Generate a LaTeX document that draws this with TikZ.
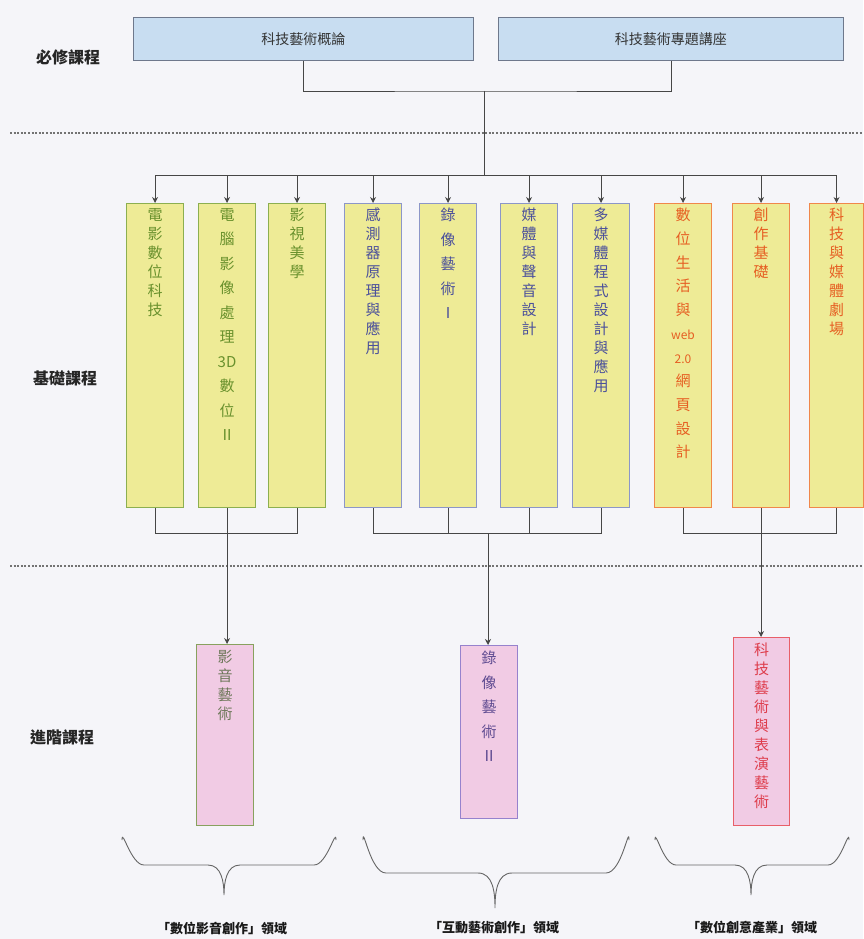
\documentclass[tikz,border=0pt]{standalone}
\usepackage{fontspec}
\setmainfont{Noto Sans CJK TC}
\usetikzlibrary{arrows.meta}
\definecolor{bgc}{RGB}{245,245,249}
\definecolor{topfill}{RGB}{200,221,241}
\definecolor{topdraw}{RGB}{110,120,140}
\definecolor{yfill}{RGB}{238,235,150}
\definecolor{gdraw}{RGB}{140,175,80}
\definecolor{gtext}{RGB}{105,145,45}
\definecolor{bdraw}{RGB}{140,150,200}
\definecolor{btext}{RGB}{75,80,155}
\definecolor{odraw}{RGB}{240,135,75}
\definecolor{otext}{RGB}{230,95,35}
\definecolor{pfill}{RGB}{241,203,228}
\definecolor{atext}{RGB}{110,120,90}
\definecolor{pdraw}{RGB}{150,130,205}
\definecolor{ptext}{RGB}{95,75,145}
\definecolor{rdraw}{RGB}{232,95,105}
\definecolor{rtext}{RGB}{222,60,75}
\definecolor{linec}{RGB}{70,70,70}
\tikzset{
  topbox/.style={draw=topdraw, fill=topfill, line width=0.9pt, minimum height=43pt, anchor=north west, font=\fontsize{14}{16}\selectfont, text=black!80},
  vbox/.style={fill=yfill, line width=1.1pt, minimum width=57pt, anchor=north west, inner sep=0pt},
  pbox/.style={fill=pfill, line width=1.1pt, minimum width=57pt, anchor=north west, inner sep=0pt},
  vtxt/.style={anchor=north, align=center, inner sep=0pt, font=\fontsize{15}{19}\selectfont},
  vtxtw/.style={anchor=north, align=center, inner sep=0pt, font=\fontsize{15}{24.5}\selectfont},
  sidelbl/.style={font=\bfseries\fontsize{16}{18}\selectfont, text=black!85},
  domlbl/.style={font=\bfseries\fontsize{13}{15}\selectfont, text=black!90},
  conn/.style={draw=linec, line width=0.9pt},
  arr/.style={conn, -{Stealth[length=6pt,width=6pt]}},
  sep/.style={draw=black!55, line width=1.2pt, dash pattern=on 2pt off 1.6pt},
  brc/.style={draw=black!60, line width=0.9pt}
}
\begin{document}
\begin{tikzpicture}[x=1pt,y=-1pt]
\fill[bgc] (0,0) rectangle (863,939);
\useasboundingbox (0,0) rectangle (863,939);

% separators
\draw[sep] (10,133) -- (863,133);
\draw[sep] (10,566) -- (863,566);

% side labels
\node[sidelbl] (l1) at (68,57) {必修課程};
\node[sidelbl] (l2) at (65,378) {基礎課程};
\node[sidelbl] (l3) at (62,737) {進階課程};

% top boxes
\node[topbox, minimum width=340pt] (top1) at (133,17) {科技藝術概論};
\node[topbox, minimum width=345pt] (top2) at (498,17) {科技藝術專題講座};

% vertical boxes
\node[vbox, draw=gdraw, minimum height=304pt] (b1) at (126,203) {};
\node[vbox, draw=gdraw, minimum height=304pt] (b2) at (198,203) {};
\node[vbox, draw=gdraw, minimum height=304pt] (b3) at (268,203) {};
\node[vbox, draw=bdraw, minimum height=304pt] (b4) at (344,203) {};
\node[vbox, draw=bdraw, minimum height=304pt] (b5) at (419,203) {};
\node[vbox, draw=bdraw, minimum height=304pt] (b6) at (500,203) {};
\node[vbox, draw=bdraw, minimum height=304pt] (b7) at (572,203) {};
\node[vbox, draw=odraw, minimum height=304pt] (b8) at (654,203) {};
\node[vbox, draw=odraw, minimum height=304pt] (b9) at (732,203) {};
\node[vbox, draw=odraw, minimum height=304pt, minimum width=54pt] (b10) at (809,203) {};

\node[vtxt, text=gtext] (t1) at ([yshift=-5pt]b1.north) {電\\影\\數\\位\\科\\技};
\node[vtxtw, text=gtext] (t2) at ([yshift=-5pt]b2.north) {電\\腦\\影\\像\\處\\理\\3D\\數\\位\\Ⅱ};
\node[vtxt, text=gtext] (t3) at ([yshift=-5pt]b3.north) {影\\視\\美\\學};
\node[vtxt, text=btext] (t4) at ([yshift=-5pt]b4.north) {感\\測\\器\\原\\理\\與\\應\\用};
\node[vtxtw, text=btext] (t5) at ([yshift=-5pt]b5.north) {錄\\像\\藝\\術\\Ⅰ};
\node[vtxt, text=btext] (t6) at ([yshift=-5pt]b6.north) {媒\\體\\與\\聲\\音\\設\\計};
\node[vtxt, text=btext] (t7) at ([yshift=-5pt]b7.north) {多\\媒\\體\\程\\式\\設\\計\\與\\應\\用};
\node[vtxt, text=otext, font=\fontsize{15}{23.7}\selectfont] (t8) at ([yshift=-5pt]b8.north) {數\\位\\生\\活\\與\\{\fontsize{12}{12}\selectfont web}\\{\fontsize{12}{12}\selectfont 2.0}\\網\\頁\\設\\計};
\node[vtxt, text=otext] (t9) at ([yshift=-5pt]b9.north) {創\\作\\基\\礎};
\node[vtxt, text=otext] (t10) at ([yshift=-5pt]b10.north) {科\\技\\與\\媒\\體\\劇\\場};

% advanced boxes
\node[pbox, draw=gdraw!70!gray, minimum height=181pt] (A) at (196,644) {};
\node[pbox, draw=pdraw, minimum height=173pt] (B) at (460,645) {};
\node[pbox, draw=rdraw, minimum height=188pt, minimum width=56pt] (C) at (733,637) {};
\node[vtxt, text=atext] (tA) at ([yshift=-6pt]A.north) {影\\音\\藝\\術};
\node[vtxtw, text=ptext] (tB) at ([yshift=-6pt]B.north) {錄\\像\\藝\\術\\Ⅱ};
\node[vtxt, text=rtext] (tC) at ([yshift=-6pt]C.north) {科\\技\\藝\\術\\與\\表\\演\\藝\\術};

% top connectors
\coordinate (j0) at (484,91);
\coordinate (j1) at (484,175);
\draw[conn] (top1.south) |- (j0) -| (top2.south);
\draw[conn] (j0) -- (j1);
\draw[conn] (b1.north |- j1) -- (b10.north |- j1);
\foreach \b in {b1,b2,b3,b4,b5,b6,b7,b8,b9,b10}
  \draw[arr] (\b.north |- j1) -- (\b.north);

% bottom connectors
\coordinate (g1) at (226,533);
\coordinate (g2) at (488,533);
\coordinate (g3) at (761,533);
\draw[conn] (b1.south) |- (b3.south |- g1) -- (b3.south);
\draw[arr] (b2.south) -- (b2.south |- A.north);
\draw[conn] (b4.south) |- (b7.south |- g2) -- (b7.south);
\draw[conn] (b5.south) -- (b5.south |- g2);
\draw[conn] (b6.south) -- (b6.south |- g2);
\draw[arr] (g2) -- (g2 |- B.north);
\draw[conn] (b8.south) |- (b10.south |- g3) -- (b10.south);
\draw[arr] (b9.south) -- (b9.south |- C.north);

% braces
\draw[brc] (122,840) to[out=90,in=180] (144,865) -- (208,865) to[out=0,in=90] (224,895) to[out=90,in=180] (240,865) -- (314,865) to[out=0,in=90] (336,840);
\draw[brc] (363,840) to[out=90,in=180] (386,873) -- (478,873) to[out=0,in=90] (495,908) to[out=90,in=180] (512,873) -- (606,873) to[out=0,in=90] (629,840);
\draw[brc] (655,840) to[out=90,in=180] (676,865) -- (735,865) to[out=0,in=90] (751,895) to[out=90,in=180] (767,865) -- (828,865) to[out=0,in=90] (849,840);

% domain labels
\node[domlbl] (d1) at (222,928) {「數位影音創作」領域};
\node[domlbl] (d2) at (494,928) {「互動藝術創作」領域};
\node[domlbl] (d3) at (752,928) {「數位創意產業」領域};
\end{tikzpicture}
\end{document}
